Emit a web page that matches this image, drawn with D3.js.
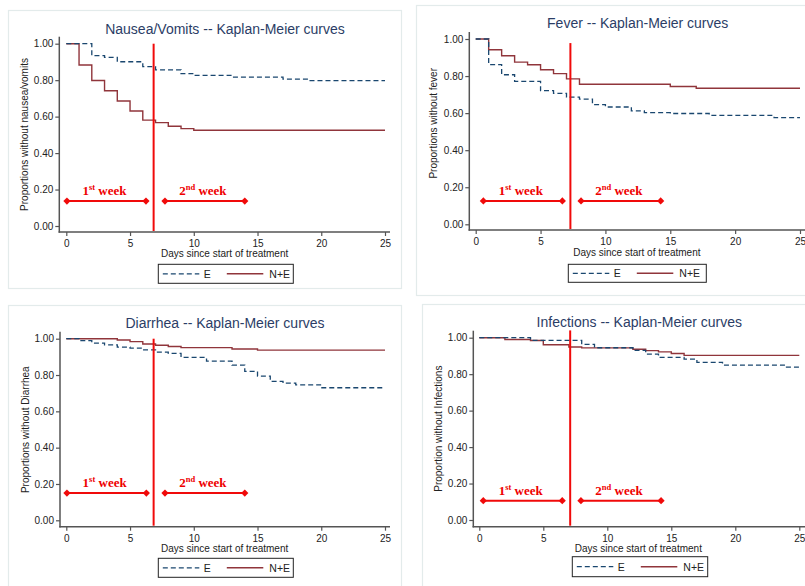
<!DOCTYPE html>
<html>
<head>
<meta charset="utf-8">
<script src="https://cdn.jsdelivr.net/npm/d3@7"></script>
<style>
  html, body { margin: 0; padding: 0; background: #fff; }
  svg { display: block; }
  text { font-family: "Liberation Sans", Arial, sans-serif; }
</style>
</head>
<body>
<svg id="chart" width="805" height="586"></svg>
<script>
// ---------------- DATA ----------------
const seriesNames = ["E", "N+E"];
const xTicks = [0, 5, 10, 15, 20, 25];
const yTicks = [0, 0.2, 0.4, 0.6, 0.8, 1.0];
const maxDay = 25;

const titles = [
  "Nausea/Vomits -- Kaplan-Meier curves",
  "Fever -- Kaplan-Meier curves",
  "Diarrhea -- Kaplan-Meier curves",
  "Infections -- Kaplan-Meier curves"
];
const yLabels = [
  "Proportions without nausea/vomits",
  "Proportions without fever",
  "Proportions without Diarrhea",
  "Proportion without Infections"
];
const xLabel = "Days since start of treatment";

// step curves: [day, proportion] (value holds until next step)
const nauseaE  = [[0,1.0],[2,0.935],[3,0.925],[4,0.901],[6,0.874],[7,0.856],[9,0.836],[10,0.826],[13,0.817],[17,0.806],[19,0.798]];
const nauseaNE = [[0,1.0],[1,0.883],[2,0.798],[3,0.742],[4,0.686],[5,0.631],[6,0.581],[7,0.567],[8,0.547],[9,0.534],[10,0.525]];
const feverE   = [[0,1.0],[1,0.862],[2,0.807],[3,0.771],[5,0.721],[6,0.707],[7,0.686],[8,0.676],[9,0.646],[10,0.633],[12,0.612],[13,0.603],[15,0.598],[18,0.588],[23,0.576]];
const feverNE  = [[0,1.0],[1,0.942],[2,0.910],[3,0.875],[4,0.861],[5,0.834],[6,0.813],[7,0.785],[8,0.756],[15,0.744],[17,0.734]];
const diarE    = [[0,1.0],[1,0.989],[2,0.976],[3,0.966],[4,0.954],[5,0.948],[6,0.938],[7,0.926],[8,0.919],[9,0.897],[11,0.876],[13,0.855],[14,0.820],[15,0.794],[16,0.765],[17,0.755],[18,0.746],[20,0.730]];
const diarNE   = [[0,1.0],[4,0.993],[5,0.984],[6,0.971],[7,0.964],[8,0.957],[9,0.951],[13,0.943],[15,0.937]];
const infE     = [[0,1.0],[4,0.985],[8,0.963],[9,0.945],[12,0.930],[13,0.910],[14,0.892],[16,0.883],[17,0.865],[19,0.850],[24,0.839]];
const infNE    = [[0,1.0],[2,0.990],[4,0.985],[5,0.961],[7,0.949],[8,0.944],[12,0.937],[13,0.929],[14,0.922],[15,0.913],[16,0.903]];

const seriesE  = [nauseaE, feverE, diarE, infE];
const seriesNE = [nauseaNE, feverNE, diarNE, infNE];

// hand-drawn annotations: treatment-week separator day and week brackets
const separatorDay = [6.85, 7.3, 6.85, 7.1];
const separatorTop = [1.0, 0.978, 1.0, 1.04];
const week1Start = [0.05, 0.59, 0.05, 0.31];
const week1End   = [6.25, 6.68, 6.28, 6.48];
const week2Start = [7.74, 8.12, 7.74, 7.94];
const week2End   = [14.0, 14.26, 14.0, 14.2];
const weekLevel  = [0.137, 0.126, 0.150, 0.106];

// ---------------- LAYOUT ----------------
const layout = [
  { frame:[8,10,401,288],  axX:59.3, axY:232,   x0:66.3, x1:385,   yTop:43.7,  yBot:226,   xEnd:390,
    titleX:225,   titleY:33.5,  xlabY:257,  ylabX:28.3,  ylabY:134.5, leg:[158.3,264.3,135,19] },
  { frame:[416,5,810,295], axX:469.3, axY:230,  x0:475.7, x1:800,  yTop:39,    yBot:224.3, xEnd:810,
    titleX:637.7, titleY:28.3,  xlabY:256,  ylabX:437.3, ylabY:123.3, leg:[568.3,264.3,138,18] },
  { frame:[8,305,401,590], axX:60,  axY:526.7,  x0:66.3, x1:385,   yTop:338.7, yBot:520.3, xEnd:390,
    titleX:225,   titleY:328.3, xlabY:551.7, ylabX:29,   ylabY:429.7, leg:[158.3,558.3,135,19] },
  { frame:[422,304,810,590], axX:473.3, axY:526.7, x0:479.3, x1:799.3, yTop:337.7, yBot:520, xEnd:810,
    titleX:639.3, titleY:327,   xlabY:551.7, ylabX:441.7, ylabY:428.7, leg:[572.3,556.7,135.4,20] }
];

const colE = "#1a476f";
const colNE = "#90353b";
const colRed = "#f00a0a";
const titleCol = "#2b3d66";
const axisCol = "#555";
const fmt = d3.format(".2f");

const svg = d3.select("#chart");

layout.forEach((L, i) => {
  const g = svg.append("g");
  const x = d3.scaleLinear().domain([0, maxDay]).range([L.x0, L.x1]);
  const y = d3.scaleLinear().domain([0, 1]).range([L.yBot, L.yTop]);

  // panel frame
  g.append("rect")
    .attr("x", L.frame[0] + 0.5).attr("y", L.frame[1] + 0.5)
    .attr("width", L.frame[2] - L.frame[0]).attr("height", L.frame[3] - L.frame[1])
    .attr("fill", "#fff").attr("stroke", "#e3ebeb").attr("stroke-width", 1.2);

  // title
  g.append("text").attr("x", L.titleX).attr("y", L.titleY)
    .attr("text-anchor", "middle").attr("font-size", 14).attr("fill", titleCol)
    .text(titles[i]);

  // axes
  const yAxis = d3.axisLeft(y).tickValues(yTicks).tickFormat(fmt).tickSize(4).tickPadding(2);
  const yg = g.append("g").attr("transform", `translate(${L.axX},0)`).call(yAxis);
  yg.select(".domain").remove();
  yg.selectAll(".tick line").attr("stroke", axisCol).attr("stroke-width", 1.2);
  yg.selectAll(".tick text").attr("font-size", 10).attr("fill", "#222")
    .style("font-family", "Liberation Sans, Arial, sans-serif");

  const xAxis = d3.axisBottom(x).tickValues(xTicks).tickFormat(d3.format("d")).tickSize(4).tickPadding(4);
  const xg = g.append("g").attr("transform", `translate(0,${L.axY})`).call(xAxis);
  xg.select(".domain").remove();
  xg.selectAll(".tick line").attr("stroke", axisCol).attr("stroke-width", 1.2);
  xg.selectAll(".tick text").attr("font-size", 10).attr("fill", "#222")
    .style("font-family", "Liberation Sans, Arial, sans-serif");

  g.append("line").attr("x1", L.axX).attr("x2", L.axX)
    .attr("y1", L.yTop - 7).attr("y2", L.axY + 0.7)
    .attr("stroke", axisCol).attr("stroke-width", 1.5);
  g.append("line").attr("x1", L.axX - 0.7).attr("x2", L.xEnd)
    .attr("y1", L.axY).attr("y2", L.axY)
    .attr("stroke", axisCol).attr("stroke-width", 1.5);

  // axis titles
  g.append("text").attr("x", (L.x0 + L.x1) / 2 - 1).attr("y", L.xlabY)
    .attr("text-anchor", "middle").attr("font-size", 10).attr("fill", "#222")
    .text(xLabel);
  g.append("text").attr("transform", `translate(${L.ylabX},${L.ylabY}) rotate(-90)`)
    .attr("text-anchor", "middle").attr("font-size", 10).attr("fill", "#222")
    .text(yLabels[i]);

  // KM step curves
  const line = d3.line().x(d => x(d[0])).y(d => y(d[1])).curve(d3.curveStepAfter);
  const ext = s => s.concat([[maxDay, s[s.length - 1][1]]]);
  g.append("path").attr("d", line(ext(seriesNE[i])))
    .attr("fill", "none").attr("stroke", colNE).attr("stroke-width", 1.4);
  g.append("path").attr("d", line(ext(seriesE[i])))
    .attr("fill", "none").attr("stroke", colE).attr("stroke-width", 1.3)
    .attr("stroke-dasharray", "5,3");

  // separator line
  g.append("line").attr("x1", x(separatorDay[i])).attr("x2", x(separatorDay[i]))
    .attr("y1", y(separatorTop[i])).attr("y2", L.axY - 1)
    .attr("stroke", colRed).attr("stroke-width", 2);

  // week brackets
  const yy = y(weekLevel[i]);
  const diamond = d3.symbol().type(d3.symbolSquare).size(26);
  [[week1Start[i], week1End[i], "1", "st"], [week2Start[i], week2End[i], "2", "nd"]].forEach(w => {
    g.append("line").attr("x1", x(w[0])).attr("x2", x(w[1])).attr("y1", yy).attr("y2", yy)
      .attr("stroke", colRed).attr("stroke-width", 2);
    [w[0], w[1]].forEach(d => {
      g.append("path").attr("d", diamond())
        .attr("transform", `translate(${x(d)},${yy}) rotate(45)`)
        .attr("fill", colRed);
    });
    const t = g.append("text").attr("x", (x(w[0]) + x(w[1])) / 2 - 2).attr("y", yy - 6)
      .attr("text-anchor", "middle").attr("font-size", 13).attr("font-weight", "bold")
      .attr("fill", "#e00")
      .style("font-family", "Liberation Serif, 'Times New Roman', serif");
    t.append("tspan").text(w[2]);
    t.append("tspan").attr("font-size", 8.5).attr("dy", -5).text(w[3]);
    t.append("tspan").attr("dy", 5).text(" week");
  });

  // legend
  const [lx, ly, lw, lh] = L.leg;
  const lg = g.append("g");
  lg.append("rect").attr("x", lx).attr("y", ly).attr("width", lw).attr("height", lh)
    .attr("fill", "#fff").attr("stroke", "#222").attr("stroke-width", 1);
  const cy = ly + lh / 2;
  lg.append("line").attr("x1", lx + 4.5).attr("x2", lx + 41).attr("y1", cy).attr("y2", cy)
    .attr("stroke", colE).attr("stroke-width", 1.3).attr("stroke-dasharray", "5,3");
  lg.append("text").attr("x", lx + 45.5).attr("y", cy + 3.8).attr("font-size", 10.5)
    .attr("fill", "#222").text(seriesNames[0]);
  lg.append("line").attr("x1", lx + 68.5).attr("x2", lx + 105).attr("y1", cy).attr("y2", cy)
    .attr("stroke", colNE).attr("stroke-width", 1.4);
  lg.append("text").attr("x", lx + 111).attr("y", cy + 3.8).attr("font-size", 10.5)
    .attr("fill", "#222").text(seriesNames[1]);
});
</script>
</body>
</html>
